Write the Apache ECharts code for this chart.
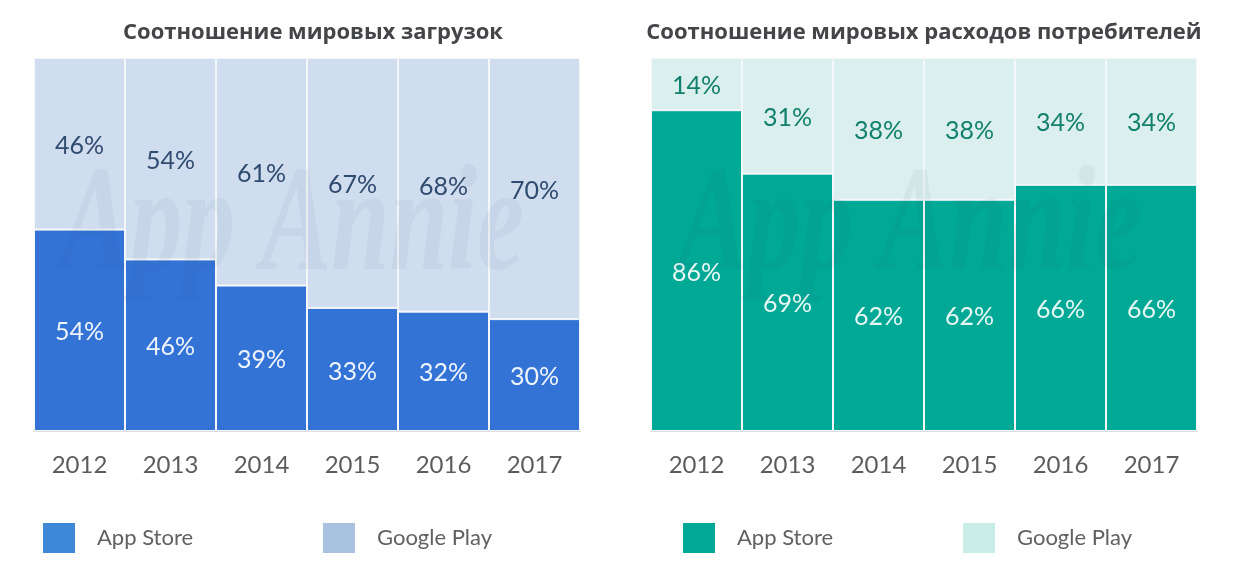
<!DOCTYPE html>
<html>
<head>
<meta charset="utf-8">
<style>
html, body { margin: 0; padding: 0; background: #fff; }
#main { width: 1237px; height: 575px; }
</style>
<script src="https://cdn.jsdelivr.net/npm/echarts@6/dist/echarts.min.js"></script>
</head>
<body>
<div id="main"></div>
<script>
var years = ['2012', '2013', '2014', '2015', '2016', '2017'];
var downloadsAppStore = [54, 46, 39, 33, 32, 30];
var downloadsGooglePlay = [46, 54, 61, 67, 68, 70];
var spendAppStore = [86, 69, 62, 62, 66, 66];
var spendGooglePlay = [14, 31, 38, 38, 34, 34];

var fontName = 'Lato, "Noto Sans", sans-serif';
var titleFont = '"Open Sans", "Noto Sans", sans-serif';

function makeTitle(text, x) {
    return {
        text: text,
        left: x,
        top: 17,
        textAlign: 'center',
        textStyle: { color: '#434548', fontFamily: titleFont, fontSize: 22, fontWeight: 'bold' }
    };
}

function makeLegend(name, x, color) {
    return {
        left: x,
        top: 518,
        itemWidth: 32,
        itemHeight: 30,
        selectedMode: false,
        data: [{ name: name, icon: 'rect', itemStyle: { color: color, borderWidth: 0 } }],
        textStyle: { color: '#5f6163', fontFamily: fontName, fontSize: 22, padding: [0, 0, 4, 17] }
    };
}

function makeSeries(name, values, index, color, labelColor) {
    return {
        name: name,
        type: 'bar',
        stack: 'share' + index,
        xAxisIndex: index,
        yAxisIndex: index,
        data: values,
        barCategoryGap: 0,
        animation: false,
        itemStyle: { color: color, borderColor: '#f4f7f9', borderWidth: 1 },
        label: {
            show: true,
            position: 'inside',
            offset: [0, 2],
            formatter: '{c}%',
            color: labelColor,
            fontFamily: fontName,
            fontSize: 25
        }
    };
}

function makeWatermark(x) {
    return {
        type: 'text',
        left: x,
        top: 155,
        z: 50,
        silent: true,
        scaleX: 0.7,
        style: {
            text: 'App Annie',
            fill: 'rgba(50,80,120,0.06)',
            font: 'italic 700 150px "Liberation Serif", serif'
        }
    };
}

var chart = echarts.init(document.getElementById('main'));
var axisText = { color: '#5a5c5e', fontFamily: fontName, fontSize: 24, margin: 22 };
var axisBottom = { show: true, lineStyle: { color: '#dcdfe1', width: 2 } };
var splitLine = { show: true, lineStyle: { color: '#d3dadd', width: 1 } };

chart.setOption({
    animation: false,
    backgroundColor: '#fff',
    title: [
        makeTitle('Соотношение мировых загрузок', 308),
        makeTitle('Соотношение мировых расходов потребителей', 919)
    ],
    legend: [
        makeLegend('App Store', 38, '#3f88d8'),
        makeLegend('Google Play', 318, '#a8c2e0'),
        makeLegend('App Store', 678, '#00a896'),
        makeLegend('Google Play', 958, '#c8ede7')
    ],
    grid: [
        { left: 34, width: 546, top: 58, height: 373 },
        { left: 651, width: 546, top: 58, height: 373 }
    ],
    xAxis: [0, 1].map(function (i) {
        return {
            type: 'category',
            gridIndex: i,
            data: years,
            axisTick: { show: false },
            axisLine: axisBottom,
            axisLabel: axisText
        };
    }),
    yAxis: [0, 1].map(function (i) {
        return {
            type: 'value',
            gridIndex: i,
            min: 0,
            max: 100,
            interval: 100,
            axisLabel: { show: false },
            axisLine: { show: false },
            axisTick: { show: false },
            splitLine: splitLine
        };
    }),
    series: [
        makeSeries('App Store', downloadsAppStore, 0, '#3373d6', '#eef4fc'),
        makeSeries('Google Play', downloadsGooglePlay, 0, '#d0ddee', '#2f4b70'),
        makeSeries('App Store', spendAppStore, 1, '#00a896', '#e6f7f4'),
        makeSeries('Google Play', spendGooglePlay, 1, '#dbf0ee', '#12806c')
    ],
    graphic: [makeWatermark(60), makeWatermark(678)]
});
</script>
</body>
</html>
